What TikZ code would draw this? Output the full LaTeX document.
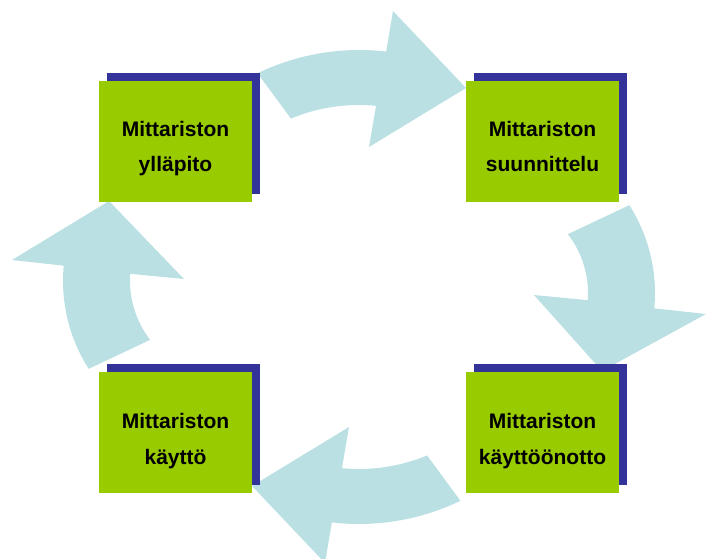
\documentclass[tikz,border=0pt]{standalone}
\usepackage{fontspec}
\setmainfont{Liberation Sans}
\usetikzlibrary{calc}
\definecolor{boxgreen}{HTML}{99CC00}
\definecolor{boxshadow}{HTML}{333399}
\definecolor{cyclearrow}{HTML}{BBE0E3}
\tikzset{
  stage/.style={fill=boxgreen, draw=none, minimum width=153pt, minimum height=121pt,
    inner sep=0pt, outer sep=0pt, anchor=south west},
  stageshadow/.style={stage, fill=boxshadow},
  stagetext/.style={anchor=base, inner sep=0pt,
    font=\fontsize{21}{25}\selectfont\bfseries},
  cyclefill/.style={fill=cyclearrow, draw=none}
}
\begin{document}
\begin{tikzpicture}[x=1pt, y=1pt]
\useasboundingbox (0,0) rectangle (709,558);
\clip (0,0) rectangle (709,558);

% curved block arrows of the cycle
% top: upkeep -> planning
\fill[cyclefill] (359,275) ++(115.8:233) arc[start angle=115.8, end angle=83.3, radius=233]
  -- (393,547) -- (466,470) -- (369,411)
  -- ($(359,275)+(84.5:178)$) arc[start angle=84.5, end angle=112.5, radius=178] -- cycle;
% right: planning -> deployment
\fill[cyclefill] (492,265) ++(32.6:163) arc[start angle=32.6, end angle=-5.4, radius=163]
  -- (706,244) -- (602,187) -- (534,263)
  -- ($(492,265)+(-4.3:96)$) arc[start angle=-4.3, end angle=37.8, radius=96] -- cycle;
% bottom: deployment -> use
\fill[cyclefill] (359,267) ++(295.8:233) arc[start angle=295.8, end angle=263.3, radius=233]
  -- (325,-5) -- (252,72) -- (349,131)
  -- ($(359,267)+(264.5:178)$) arc[start angle=264.5, end angle=292.5, radius=178] -- cycle;
% left: use -> upkeep
\fill[cyclefill] (226,277) ++(212.6:163) arc[start angle=212.6, end angle=174.6, radius=163]
  -- (12,298) -- (109,357) -- (184,279)
  -- ($(226,277)+(175.7:96)$) arc[start angle=175.7, end angle=217.8, radius=96] -- cycle;

% shadows behind the stage boxes
\node[stageshadow] (s1) at (107,364) {};
\node[stageshadow] (s2) at (474,364) {};
\node[stageshadow] (s3) at (474,73) {};
\node[stageshadow] (s4) at (107,73) {};

% stage boxes
\node[stage] (m1) at (99,356) {};
\node[stage] (m2) at (466,356) {};
\node[stage] (m3) at (466,65) {};
\node[stage] (m4) at (99,65) {};

% stage labels
\node[stagetext] (m1a) at ([yshift=-56pt]m1.north) {Mittariston};
\node[stagetext] (m1b) at ([yshift=-91pt]m1.north) {ylläpito};
\node[stagetext] (m2a) at ([yshift=-56pt]m2.north) {Mittariston};
\node[stagetext] (m2b) at ([yshift=-91pt]m2.north) {suunnittelu};
\node[stagetext] (m3a) at ([yshift=-56pt]m3.north) {Mittariston};
\node[stagetext] (m3b) at ([yshift=-92pt]m3.north) {käyttöönotto};
\node[stagetext] (m4a) at ([yshift=-56pt]m4.north) {Mittariston};
\node[stagetext] (m4b) at ([yshift=-92pt]m4.north) {käyttö};
\end{tikzpicture}
\end{document}
